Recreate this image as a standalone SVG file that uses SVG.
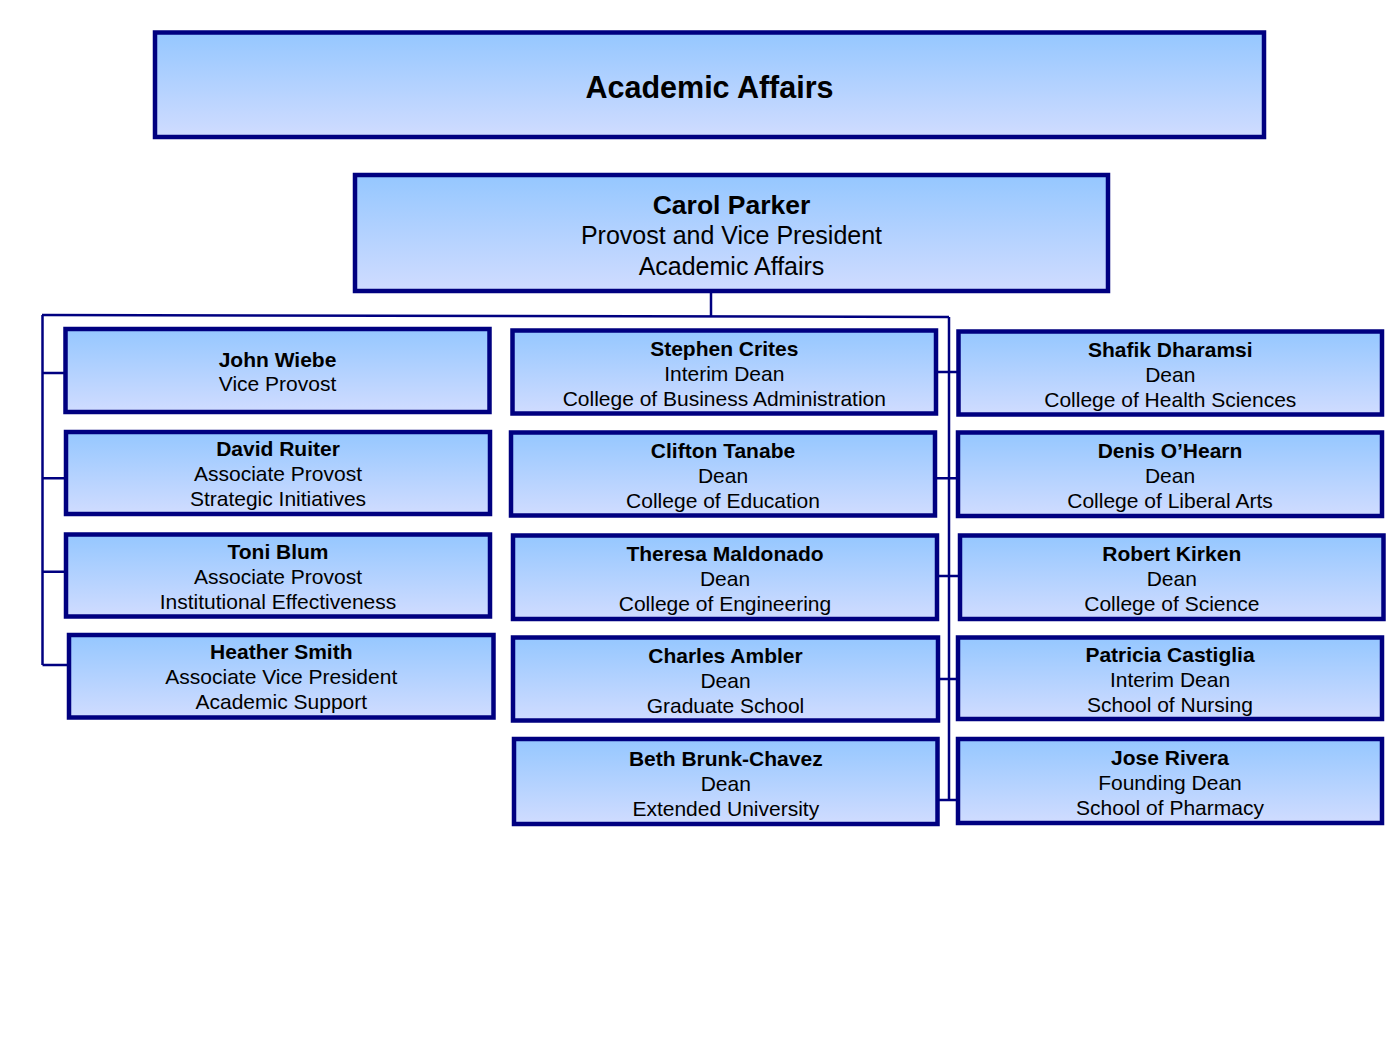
<svg xmlns="http://www.w3.org/2000/svg" width="1400" height="1050" viewBox="0 0 1400 1050">
<defs>
<linearGradient id="g" x1="0" y1="0" x2="0" y2="1">
<stop offset="0" stop-color="#95C7FF"/>
<stop offset="1" stop-color="#D0DCFF"/>
</linearGradient>
</defs>
<style>
.box{fill:url(#g);stroke:#000080;stroke-width:4.5}
.t{font-family:"Liberation Sans",Arial,sans-serif;font-size:21px;fill:#000;text-anchor:middle}
.b{font-weight:bold}
.c{fill:none;stroke:#000080;stroke-width:2.5}
</style>
<rect width="1400" height="1050" fill="#fff"/>
<g id="connectors">
<path class="c" d="M711 293V316"/>
<path class="c" d="M42 315L949 317"/>
<path class="c" d="M42.5 315V665"/>
<path class="c" d="M42.5 373H65M42.5 478.3H66M42.5 571.7H66M42.5 665H69"/>
<path class="c" d="M949 317V800"/>
<path class="c" d="M936 372H958.5M935 478.3H958M937 576H960M938 679H958M937.5 800H958"/>
</g>
<g id="title">
<rect class="box" x="155" y="32.5" width="1109" height="104.5"/>
<text class="t b" x="709.5" y="98" style="font-size:30.5px">Academic Affairs</text>
</g>
<g id="carol">
<rect class="box" x="355" y="175" width="753" height="116"/>
<text class="t b" x="731.5" y="213.5" style="font-size:26.5px">Carol Parker</text>
<text class="t" x="731.5" y="244" style="font-size:25px">Provost and Vice President</text>
<text class="t" x="731.5" y="274.5" style="font-size:25px">Academic Affairs</text>
</g>
<g id="john">
<rect class="box" x="65.5" y="329" width="424" height="83"/>
<text class="t b" x="277.5" y="366.5">John Wiebe</text>
<text class="t" x="277.5" y="391">Vice Provost</text>
</g>
<g id="david">
<rect class="box" x="66" y="432" width="424" height="82"/>
<text class="t b" x="278" y="456">David Ruiter</text>
<text class="t" x="278" y="481">Associate Provost</text>
<text class="t" x="278" y="506">Strategic Initiatives</text>
</g>
<g id="toni">
<rect class="box" x="66" y="534.5" width="424" height="82"/>
<text class="t b" x="278" y="558.5">Toni Blum</text>
<text class="t" x="278" y="583.5">Associate Provost</text>
<text class="t" x="278" y="608.5">Institutional Effectiveness</text>
</g>
<g id="heather">
<rect class="box" x="69" y="635" width="424.5" height="82.5"/>
<text class="t b" x="281.3" y="659">Heather Smith</text>
<text class="t" x="281.3" y="684">Associate Vice President</text>
<text class="t" x="281.3" y="709">Academic Support</text>
</g>
<g id="stephen">
<rect class="box" x="512.5" y="330.5" width="423.5" height="83"/>
<text class="t b" x="724.3" y="355.5">Stephen Crites</text>
<text class="t" x="724.3" y="380.5">Interim Dean</text>
<text class="t" x="724.3" y="405.5">College of Business Administration</text>
</g>
<g id="clifton">
<rect class="box" x="511" y="432.5" width="424" height="83"/>
<text class="t b" x="723" y="457.5">Clifton Tanabe</text>
<text class="t" x="723" y="482.5">Dean</text>
<text class="t" x="723" y="507.5">College of Education</text>
</g>
<g id="theresa">
<rect class="box" x="513" y="535.5" width="424" height="83.5"/>
<text class="t b" x="725" y="560.5">Theresa Maldonado</text>
<text class="t" x="725" y="585.5">Dean</text>
<text class="t" x="725" y="610.5">College of Engineering</text>
</g>
<g id="charles">
<rect class="box" x="513" y="637.5" width="425" height="83"/>
<text class="t b" x="725.5" y="662.5">Charles Ambler</text>
<text class="t" x="725.5" y="687.5">Dean</text>
<text class="t" x="725.5" y="712.5">Graduate School</text>
</g>
<g id="beth">
<rect class="box" x="514" y="739" width="423.5" height="85"/>
<text class="t b" x="725.8" y="765.5">Beth Brunk-Chavez</text>
<text class="t" x="725.8" y="790.5">Dean</text>
<text class="t" x="725.8" y="815.5">Extended University</text>
</g>
<g id="shafik">
<rect class="box" x="958.5" y="331.5" width="423.5" height="83"/>
<text class="t b" x="1170.3" y="356.5">Shafik Dharamsi</text>
<text class="t" x="1170.3" y="381.5">Dean</text>
<text class="t" x="1170.3" y="406.5">College of Health Sciences</text>
</g>
<g id="denis">
<rect class="box" x="958" y="432.5" width="424" height="83.5"/>
<text class="t b" x="1170" y="457.5">Denis O’Hearn</text>
<text class="t" x="1170" y="482.5">Dean</text>
<text class="t" x="1170" y="507.5">College of Liberal Arts</text>
</g>
<g id="robert">
<rect class="box" x="960" y="535.5" width="423.5" height="83.5"/>
<text class="t b" x="1171.8" y="560.5">Robert Kirken</text>
<text class="t" x="1171.8" y="585.5">Dean</text>
<text class="t" x="1171.8" y="610.5">College of Science</text>
</g>
<g id="patricia">
<rect class="box" x="958" y="637.5" width="424" height="81.5"/>
<text class="t b" x="1170" y="662">Patricia Castiglia</text>
<text class="t" x="1170" y="687">Interim Dean</text>
<text class="t" x="1170" y="712">School of Nursing</text>
</g>
<g id="jose">
<rect class="box" x="958" y="739" width="424" height="84"/>
<text class="t b" x="1170" y="765">Jose Rivera</text>
<text class="t" x="1170" y="790">Founding Dean</text>
<text class="t" x="1170" y="815">School of Pharmacy</text>
</g>
</svg>
